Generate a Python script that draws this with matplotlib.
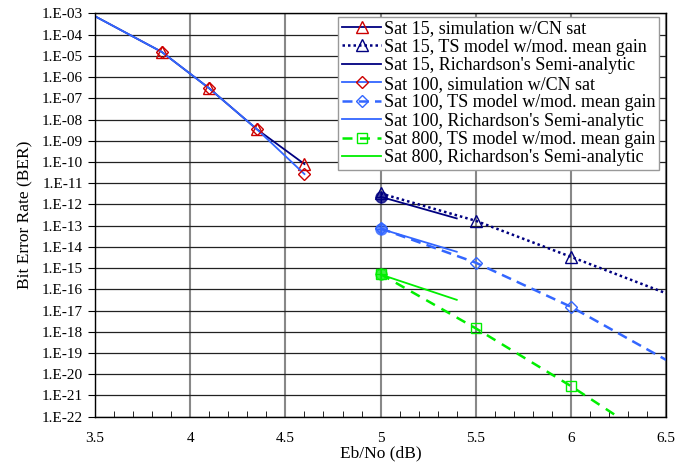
import math
import matplotlib
matplotlib.use("Agg")
import matplotlib.pyplot as plt
from matplotlib.ticker import FixedLocator, MultipleLocator, FuncFormatter

plt.rcParams['font.family'] = ['Liberation Serif', 'DejaVu Serif']

# simulation points (Eb/No in dB)
sim_x = [3.5, 3.85, 4.1, 4.35, 4.6]
sat15_sim = [7.4e-4, 1.55e-5, 2.95e-7, 3.5e-9, 8.0e-11]
sat100_sim = [7.4e-4, 1.55e-5, 2.95e-7, 3.5e-9, 2.7e-11]

# TS model w/ modified mean gain
ts_x = [5.0, 5.5, 6.0, 6.5]
sat15_ts = [3.3e-12, 1.7e-13, 3.4e-15, 6.5e-17]
sat100_ts = [7.4e-14, 1.8e-15, 1.5e-17, 4.7e-20]
sat800_ts = [5.2e-16, 1.45e-18, 2.75e-21, 3.2e-24]

# Richardson's semi-analytic
rich_x = [5.0, 5.4]
sat15_rich = [2.3e-12, 2.2e-13]
sat100_rich = [7.1e-14, 5.9e-15]
sat800_rich = [5.0e-16, 3.2e-17]

navy = '#000080'
blue = '#3366FF'
green = '#00EE00'
red = '#CC0000'

fig = plt.figure(figsize=(6.99, 4.65), dpi=100)
ax = fig.add_axes([0.136, 0.104, 0.817, 0.867])

ax.plot(sim_x, sat15_sim, color=navy, lw=1.3, marker='^', ms=8, mfc='none',
        mec=red, mew=1.0, markevery=[1, 2, 3, 4], label='Sat 15, simulation w/CN sat')
ax.plot(ts_x, sat15_ts, color=navy, lw=1.8, ls=(0, (1, 1.2)), marker='^', ms=8, mfc='none',
        mec=navy, mew=1.0, markevery=[0, 1, 2], label='Sat 15, TS model w/mod. mean gain')
ax.plot(rich_x, sat15_rich, color=navy, lw=1.3, label="Sat 15, Richardson's Semi-analytic")
ax.plot(sim_x, sat100_sim, color=blue, lw=1.3, marker='D', ms=6, mfc='none',
        mec=red, mew=1.0, markevery=[1, 2, 3, 4], label='Sat 100, simulation w/CN sat')
ax.plot(ts_x, sat100_ts, color=blue, lw=1.8, ls=(0, (4, 2.5)), marker='D', ms=6, mfc='none',
        mec=blue, mew=1.0, markevery=[0, 1, 2], label='Sat 100, TS model w/mod. mean gain')
ax.plot(rich_x, sat100_rich, color=blue, lw=1.3, label="Sat 100, Richardson's Semi-analytic")
ax.plot(ts_x, sat800_ts, color=green, lw=1.8, ls=(0, (4, 3)), marker='s', ms=7, mfc='none',
        mec=green, mew=1.0, markevery=[0, 1, 2], label='Sat 800, TS model w/mod. mean gain')
ax.plot(rich_x, sat800_rich, color=green, lw=1.3, label="Sat 800, Richardson's Semi-analytic")

# blobs at the start of the semi-analytic curves
for c, r in [(navy, sat15_rich), (blue, sat100_rich), (green, sat800_rich)]:
    ax.plot(rich_x[0], r[0], 'o', ms=8, color=c, alpha=0.75)
    ax.plot(rich_x[0], r[0], '+', ms=8, color=c, mew=0.8)

ax.set_yscale('log')
ax.set_xlim(3.5, 6.5)
ax.set_ylim(1e-22, 1e-3)
ax.yaxis.set_major_locator(FixedLocator([10.0 ** -k for k in range(3, 23)]))
ax.yaxis.set_minor_locator(FixedLocator([]))
ax.yaxis.set_major_formatter(FuncFormatter(lambda v, p: "1.E-%02d" % round(-math.log10(v))))
ax.xaxis.set_major_locator(MultipleLocator(0.5))
ax.xaxis.set_minor_locator(MultipleLocator(0.1))
ax.xaxis.set_major_formatter(FuncFormatter(lambda v, p: ('%g' % v)))

ax.tick_params(axis='y', direction='out', length=5, labelsize=11)
ax.tick_params(axis='x', which='major', direction='in', length=0, labelsize=11, pad=11)
ax.tick_params(axis='x', which='minor', direction='in', length=4)

ax.grid(True, axis='y', color='#222222', lw=0.9)
ax.grid(True, axis='x', which='major', color='#888888', lw=1.5)
ax.set_axisbelow(True)
for s in ax.spines.values():
    s.set_linewidth(1.0)

ax.set_xlabel('Eb/No (dB)', fontsize=12.5, labelpad=0)
ax.set_ylabel('Bit Error Rate (BER)', fontsize=12.5, labelpad=6)

leg = ax.legend(loc='upper right', bbox_to_anchor=(0.988, 0.992), borderaxespad=0,
                fontsize=13, numpoints=1, handlelength=2.2, handletextpad=0.15,
                labelspacing=0.08, borderpad=0.2, fancybox=False, framealpha=1,
                edgecolor='#999999')

fig.savefig('out.png', dpi=100)
